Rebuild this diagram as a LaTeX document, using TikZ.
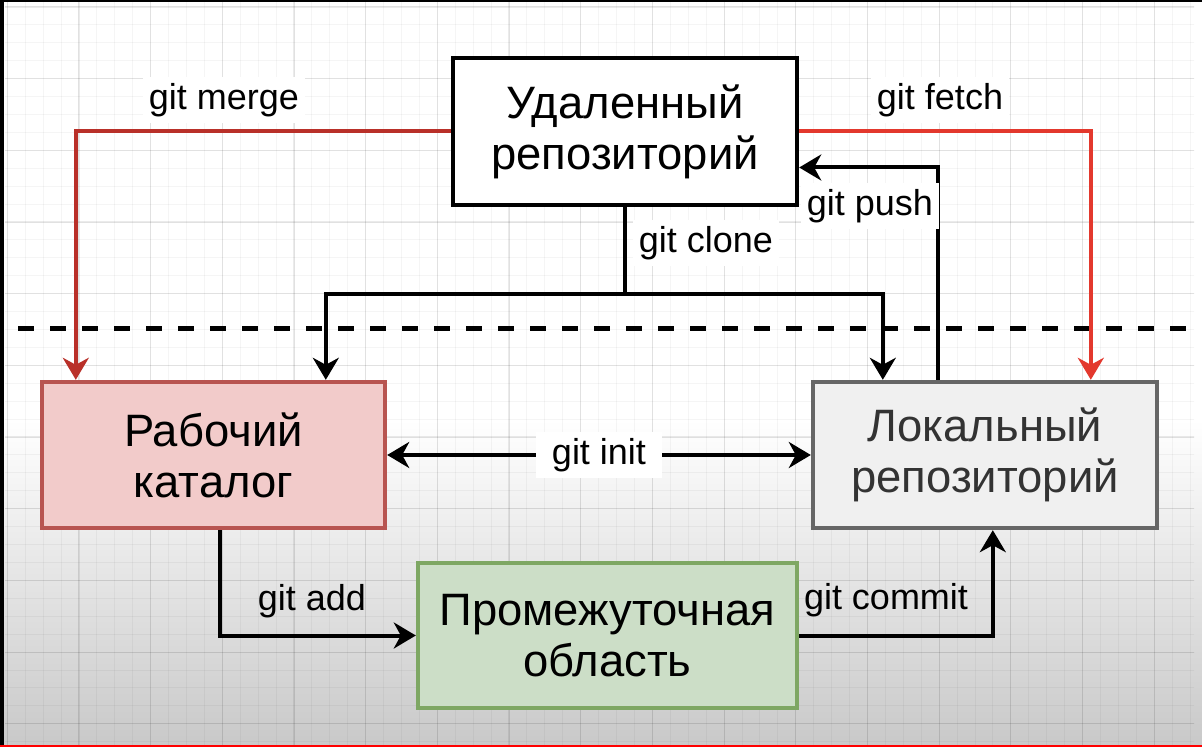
\documentclass[tikz,border=0pt]{standalone}
\usepackage{fontspec}
\setmainfont{Liberation Sans}
\usetikzlibrary{arrows.meta,calc}
\definecolor{mergered}{HTML}{B93029}
\definecolor{fetchred}{HTML}{E3382D}
\definecolor{workfill}{HTML}{F2CBCA}
\definecolor{workline}{HTML}{B85450}
\definecolor{localfill}{HTML}{F0F0F0}
\definecolor{localline}{HTML}{666666}
\definecolor{localtext}{HTML}{333333}
\definecolor{stagefill}{HTML}{CCDEC7}
\definecolor{stageline}{HTML}{7EA763}
\definecolor{bottomgray}{HTML}{C9C9C9}
\begin{document}
\begin{tikzpicture}[x=0.5pt,y=-0.5pt,
  box/.style={draw, line width=2.2pt, align=center, inner sep=0pt,
    font=\fontsize{22.7}{25.5}\selectfont},
  lab/.style={fill=white, inner sep=3pt, font=\fontsize{18}{21}\selectfont},
  plainlab/.style={inner sep=2pt, font=\fontsize{18}{21}\selectfont},
  conn/.style={line width=2pt, -{Stealth[length=11pt,width=13pt,inset=3.5pt]}},
  biconn/.style={line width=2pt, {Stealth[length=11pt,width=13pt,inset=3.5pt]}-{Stealth[length=11pt,width=13pt,inset=3.5pt]}},
  plainline/.style={line width=2pt},
  minorgrid/.style={black, opacity=0.04, line width=0.5pt},
  majorgrid/.style={black, opacity=0.08, line width=0.6pt}]
\useasboundingbox (0,0) rectangle (1202,747);
% background
\fill[white] (0,0) rectangle (1202,747);
\shade[top color=white, bottom color=bottomgray] (0,420) rectangle (1202,745);
% grid
\begin{scope}
\clip (5,3) rectangle (1194,745);
\foreach \i in {0,...,66} {
  \draw[minorgrid] ({7.3+\i*17.92},0) -- ({7.3+\i*17.92},747);
}
\foreach \j in {0,...,41} {
  \draw[minorgrid] (0,{7+\j*17.92}) -- (1202,{7+\j*17.92});
}
\foreach \i in {0,...,16} {
  \draw[majorgrid] ({7.3+\i*71.68},0) -- ({7.3+\i*71.68},747);
}
\foreach \j in {0,...,10} {
  \draw[majorgrid] (0,{7+\j*71.68}) -- (1202,{7+\j*71.68});
}
\end{scope}
% frame of the screenshot
\fill[black] (0,0) rectangle (1202,2.5);
\fill[black] (0,0) rectangle (4,747);
\fill[red] (0,744.5) rectangle (1202,747);
% dashed boundary
\coordinate (dl) at (18,329);
\coordinate (dr) at (1202,329);
\draw[line width=2.5pt, dash pattern=on 8pt off 8pt] (dl) -- (dr);
% boxes
\node[box, fill=white, minimum width=172pt, minimum height=73.5pt] (remote) at (625,131.5) {Удаленный\\репозиторий};
\node[box, fill=workfill, draw=workline, minimum width=171.5pt, minimum height=73pt] (work) at (213.5,455) {Рабочий\\каталог};
\node[box, fill=localfill, draw=localline, text=localtext, minimum width=172pt, minimum height=73pt] (local) at (985,455) {Локальный\\репозиторий};
\node[box, fill=stagefill, draw=stageline, minimum width=189.5pt, minimum height=72.5pt] (stage) at (607.5,635.5) {Промежуточная\\область};
% git merge
\draw[conn, draw=mergered, color=mergered] (remote.west) -| ([xshift=18pt]work.north west);
\node[lab] (lmerge) at (224,100) {git merge};
% git fetch
\draw[conn, draw=fetchred, color=fetchred] (remote.east) -| ([xshift=140pt]local.north west);
\node[lab] (lfetch) at (940,100) {git fetch};
% git push
\draw[conn] ([xshift=63.5pt]local.north west) |- ([yshift=-18pt]remote.east);
\node[lab] (lpush) at (870,206) {git push};
% git clone
\coordinate (cj) at ($(remote.south)+(0,87)$);
\draw[plainline] (remote.south) -- (cj);
\draw[conn] (cj) -| ([xshift=143pt]work.north west);
\draw[conn] (cj) -| ([xshift=36pt]local.north west);
\node[lab] (lclone) at (706,243) {git clone};
% git init
\draw[biconn] (work.east) -- (local.west) node[lab, midway, inner xsep=8pt] (linit) {git init};
% git add
\draw[conn] ([xshift=90pt]work.south west) |- (stage.west);
\node[plainlab] (ladd) at (312,601) {git add};
% git commit
\draw[conn] (stage.east) -| ([xshift=91pt]local.south west);
\node[plainlab] (lcommit) at (886,600) {git commit};
\end{tikzpicture}
\end{document}
